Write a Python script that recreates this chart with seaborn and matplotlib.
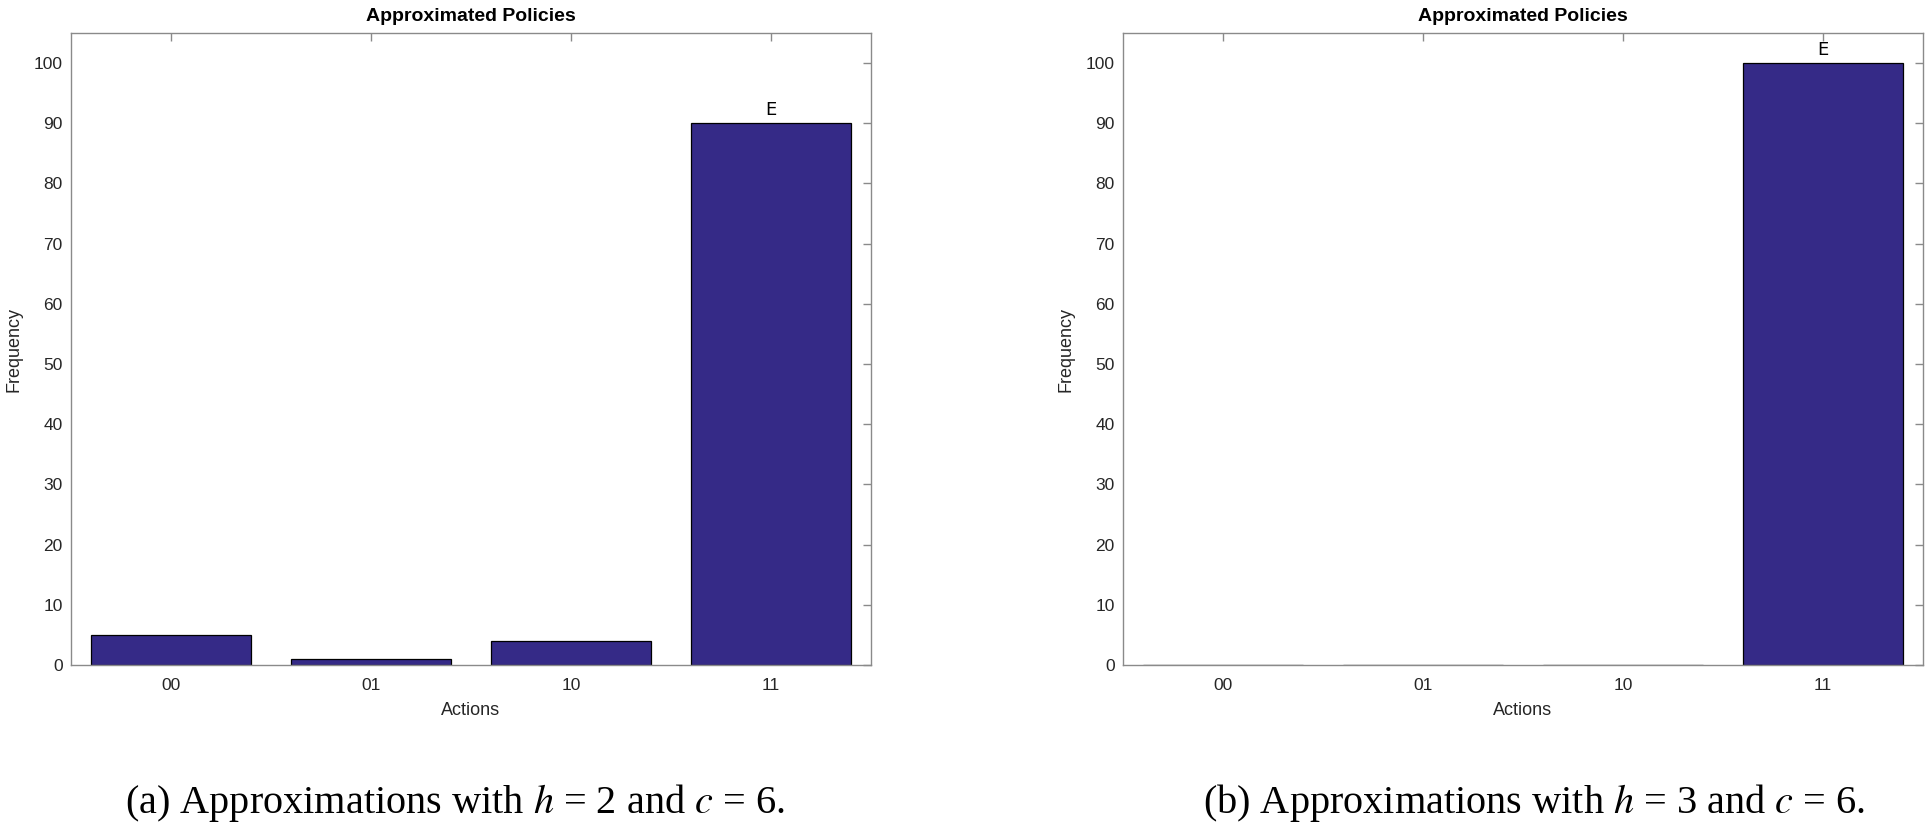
import seaborn as sns
import pandas as pd
import matplotlib.pyplot as plt

# data
actions = ["00", "01", "10", "11"]
freq_a = [5, 1, 4, 90]
freq_b = [0, 0, 0, 100]
marks_a = ["", "", "", "E"]
marks_b = ["", "", "", "E"]
captions = [
    "(a) Approximations with $h$ = 2 and $c$ = 6.",
    "(b) Approximations with $h$ = 3 and $c$ = 6.",
]

BAR_COLOR = "#352A87"
SPINE_COLOR = "#8a8a8a"
TEXT_COLOR = "#262626"

sns.set_style("white")
plt.rcParams["font.family"] = ["Liberation Sans", "DejaVu Sans"]
plt.rcParams["mathtext.fontset"] = "stix"


def draw_panel(ax, values, marks):
    df = pd.DataFrame({"Actions": actions, "Frequency": values})
    sns.barplot(data=df, x="Actions", y="Frequency", color=BAR_COLOR,
                saturation=1, edgecolor="black", linewidth=0.9,
                width=0.8, ax=ax)
    ax.set_axisbelow(True)
    ax.set_xlim(-0.5, len(actions) - 0.5)
    ax.set_ylim(0, 105)
    ax.set_yticks(range(0, 101, 10))

    # labels above bars
    for i, (v, m) in enumerate(zip(values, marks)):
        if m:
            ax.annotate(m, (i, v), xytext=(0, 3), textcoords="offset points",
                        ha="center", va="bottom", fontsize=13,
                        family="DejaVu Sans", color="black")

    # matlab-ish box with inward ticks on all sides
    for s in ax.spines.values():
        s.set_visible(True)
        s.set_color(SPINE_COLOR)
        s.set_linewidth(1.0)
    ax.tick_params(direction="in", length=6, width=1.0, color=SPINE_COLOR,
                   top=True, right=True, labelsize=12.5, labelcolor=TEXT_COLOR)
    ax.tick_params(axis="x", pad=9)
    ax.tick_params(axis="y", pad=6)
    ax.set_title("Approximated Policies", fontsize=14, fontweight="bold",
                 pad=9, color="black")
    ax.set_xlabel("Actions", fontsize=13, color=TEXT_COLOR, labelpad=7)
    ax.set_ylabel("Frequency", fontsize=13, color=TEXT_COLOR, labelpad=8)


fig = plt.figure(figsize=(19.32, 8.3), dpi=100)
ax1 = fig.add_axes([71 / 1932, 1 - 665 / 830, 800 / 1932, 632 / 830])
ax2 = fig.add_axes([1123 / 1932, 1 - 665 / 830, 800 / 1932, 632 / 830])

draw_panel(ax1, freq_a, marks_a)
draw_panel(ax2, freq_b, marks_b)

fig.text(455 / 1932, 1 - 803 / 830, captions[0], ha="center", va="center",
         fontsize=29, family="Liberation Serif", color="black")
fig.text(1534 / 1932, 1 - 803 / 830, captions[1], ha="center", va="center",
         fontsize=29, family="Liberation Serif", color="black")

fig.savefig("out.png", dpi=100)
